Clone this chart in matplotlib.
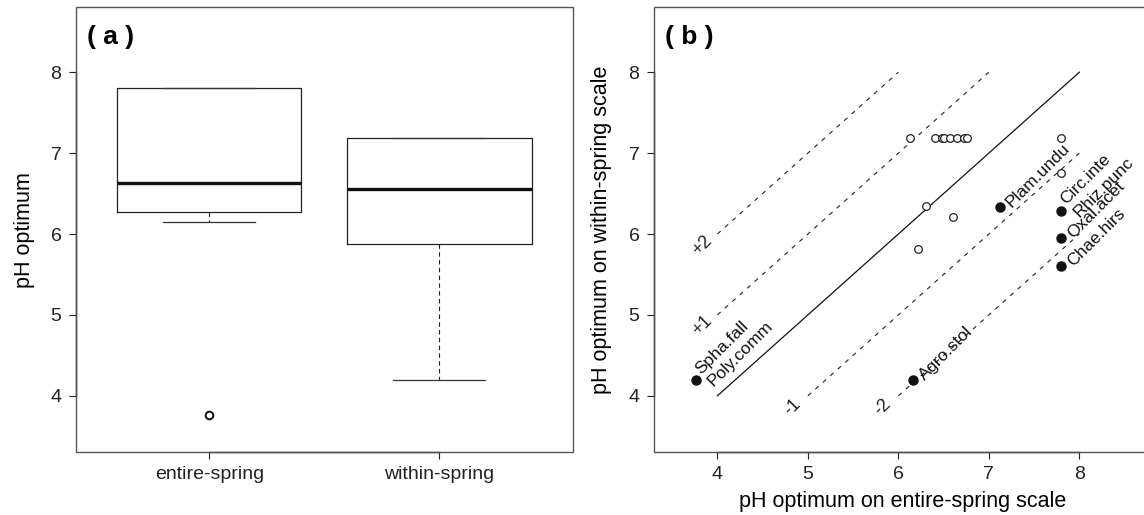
import matplotlib
matplotlib.use("Agg")
from matplotlib import pyplot as plt
from matplotlib.patches import Rectangle
import numpy as np

plt.rcParams['font.family'] = ['Liberation Sans', 'DejaVu Sans']

# panel (a): box statistics
groups = ["entire-spring", "within-spring"]
med = [6.635, 6.56]
q1 = [6.27, 5.88]
q3 = [7.80, 7.19]
whislo = [6.15, 4.20]
whishi = [7.80, 7.19]
fliers = [[3.76], []]

# panel (b): species without labels (open) and labelled species (filled)
open_x = [6.13, 6.40, 6.48, 6.50, 6.57, 6.65, 6.73, 6.76, 7.80, 7.80, 6.31, 6.60, 6.22]
open_y = [7.19, 7.19, 7.19, 7.19, 7.19, 7.19, 7.19, 7.19, 7.19, 6.76, 6.35, 6.21, 5.81]
filled_x = [3.76, 6.16, 7.12, 7.80, 7.80, 7.80]
filled_y = [4.20, 4.20, 6.33, 6.29, 5.95, 5.61]
filled_lab = ["Spha.fall\nPoly.comm", "Agro.stol", "Plam.undu",
              "Circ.inte\nRhiz.punc", "Oxal.acet", "Chae.hirs"]
offsets = [2, 1, -1, -2]
off_lab = ["+2", "+1", "-1", "-2"]

fig = plt.figure(figsize=(11.44, 5.15), dpi=100)
ax1 = fig.add_axes([0.0664, 0.1214, 0.4344, 0.8641])
ax2 = fig.add_axes([0.5717, 0.1214, 0.4351, 0.8641])


def frame(ax, xb, yb):
    for s in ax.spines.values():
        s.set_visible(False)
    ax.add_patch(Rectangle((0, 0), 1, 1, transform=ax.transAxes, fill=False,
                           edgecolor="#555555", lw=1.0, clip_on=False, zorder=5))
    for side in ["left", "bottom"]:
        ax.spines[side].set_visible(True)
        ax.spines[side].set_color("#111111")
        ax.spines[side].set_linewidth(1.0)
    ax.spines["bottom"].set_bounds(*xb)
    ax.spines["left"].set_bounds(*yb)
    ax.tick_params(direction="out", length=5, width=0.8, colors="#222222",
                   labelsize=14)
    ax.tick_params(axis="y", pad=5.5)
    ax.tick_params(axis="x", pad=4.5)


# ---- (a) boxplot
stats = []
for i in range(2):
    stats.append(dict(med=med[i], q1=q1[i], q3=q3[i], whislo=whislo[i],
                      whishi=whishi[i], fliers=fliers[i]))
ax1.bxp(stats, positions=[1, 2], widths=0.8, patch_artist=False,
        boxprops=dict(color="#222222", lw=0.9),
        medianprops=dict(color="#111111", lw=2.4),
        whiskerprops=dict(color="#222222", lw=0.8, linestyle=(0, (4, 3))),
        capprops=dict(color="#333333", lw=0.9),
        capwidths=0.4,
        flierprops=dict(marker="o", markersize=5.5, markerfacecolor="white",
                        markeredgecolor="#111111", markeredgewidth=1.4))
ax1.set_xlim(0.42, 2.58)
ax1.set_ylim(3.3, 8.8)
ax1.set_xticks([1, 2])
ax1.set_xticklabels(groups, fontsize=16)
ax1.set_yticks([4, 5, 6, 7, 8])
ax1.set_ylabel("pH optimum", fontsize=15.5, labelpad=11)
frame(ax1, (1, 2), (4, 8))
ax1.text(0.022, 0.96, "( a )", transform=ax1.transAxes, fontsize=19,
         fontweight="bold", ha="left", va="top")

# ---- (b) scatter
ax2.plot([4, 8], [4, 8], color="#111111", lw=0.9)
for off, lab in zip(offsets, off_lab):
    xs = np.array([max(4, 4 - off), min(8, 8 - off)])
    ax2.plot(xs, xs + off, color="#222222", lw=0.8, linestyle=(0, (4, 5)))
    ax2.annotate(lab, (xs[0], xs[0] + off), xytext=(-11, -8),
                 textcoords="offset points", rotation=45, fontsize=13,
                 ha="center", va="center", color="#222222")
ax2.plot(open_x, open_y, "o", markersize=5.5, markerfacecolor="white",
         markeredgecolor="#222222", markeredgewidth=0.9, linestyle="none")
ax2.plot(filled_x, filled_y, "o", markersize=6.5, color="#111111", linestyle="none")
for x, y, lab in zip(filled_x, filled_y, filled_lab):
    ax2.annotate(lab, (x, y), xytext=(6, 1.5), textcoords="offset points",
                 rotation=45, rotation_mode="anchor", fontsize=12.5,
                 ha="left", va="center", linespacing=1.25, color="#111111")
ax2.set_xlim(3.3, 8.8)
ax2.set_ylim(3.3, 8.8)
ax2.set_xticks([4, 5, 6, 7, 8])
ax2.set_yticks([4, 5, 6, 7, 8])
ax2.set_xlabel("pH optimum on entire-spring scale", fontsize=15.5, labelpad=6)
ax2.set_ylabel("pH optimum on within-spring scale", fontsize=15.5, labelpad=12)
frame(ax2, (4, 8), (4, 8))
ax2.text(0.022, 0.96, "( b )", transform=ax2.transAxes, fontsize=19,
         fontweight="bold", ha="left", va="top")

fig.savefig("out.png", dpi=100)
